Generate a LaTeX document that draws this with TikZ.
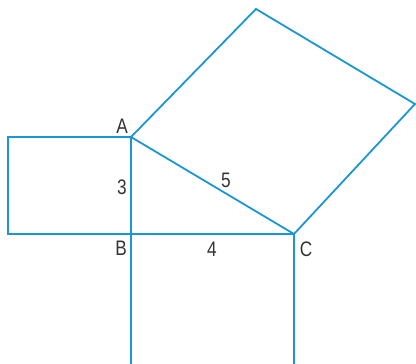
\documentclass[tikz,border=0pt]{standalone}
\usepackage{fontspec}
\setmainfont[FakeStretch=0.82]{Liberation Sans}
\definecolor{edge}{HTML}{1A96D4}
\definecolor{txt}{HTML}{333333}
\begin{document}
\begin{tikzpicture}[x=1pt,y=-1pt,
  side/.style={draw=edge,line width=1.8pt,line join=miter},
  lbl/.style={inner sep=0pt,text=txt,font=\fontsize{21}{21}\selectfont}]
\useasboundingbox (0,0) rectangle (416,364);
\coordinate (A) at (131,137);
\coordinate (B) at (131,234);
\coordinate (C) at (294,234);
\coordinate (P) at (256,9);
\coordinate (Q) at (415,104);
\coordinate (L1) at (8,137);
\coordinate (L2) at (8,234);
\coordinate (D1) at (131,366);
\coordinate (D2) at (294,366);
\draw[side] (A) -- (C) -- (Q) -- (P) -- cycle;
\draw[side] (A) -- (L1) -- (L2) -- (C);
\draw[side] (D1) -- (A);
\draw[side] (C) -- (D2);
\node[lbl] (la) at (122,126) {A};
\node[lbl] (lb) at (121,248) {B};
\node[lbl] (lc) at (306,249) {C};
\node[lbl] (l3) at (122,187) {3};
\node[lbl] (l5) at (226,180) {5};
\node[lbl] (l4) at (212,249) {4};
\end{tikzpicture}
\end{document}
